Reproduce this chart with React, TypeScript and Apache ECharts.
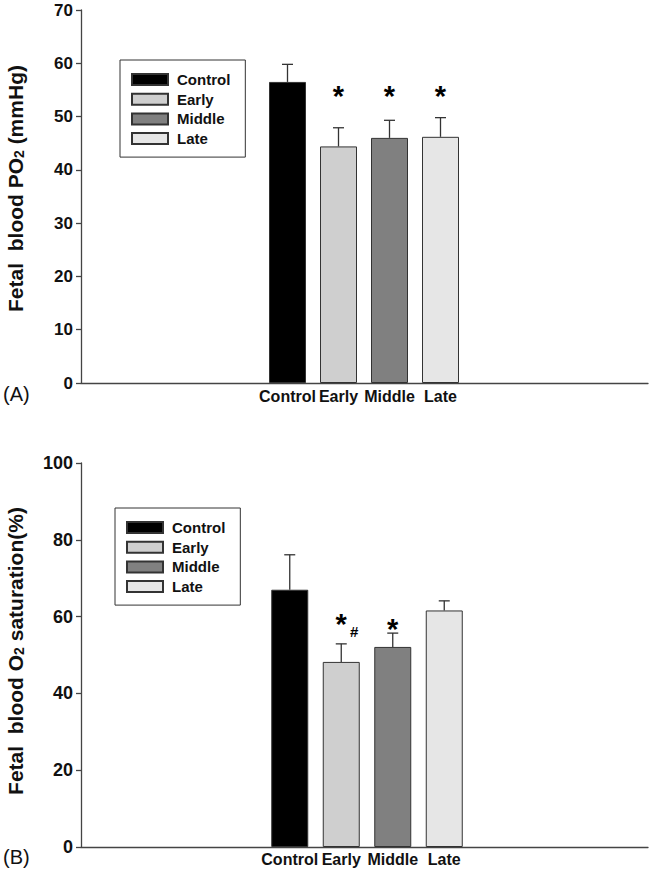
import React, { useEffect, useRef } from "react";
import * as echarts from "echarts";

const categories = ["Control", "Early", "Middle", "Late"];
const barColors = ["#000000", "#cfcfcf", "#808080", "#e6e6e6"];

// Panel A: fetal blood PO2 (mmHg)
const po2Mean = [56.5, 44.4, 46.0, 46.2];
const po2Err = [3.3, 3.5, 3.3, 3.6];
const po2Marks = ["", "*", "*", "*"];
const po2MarkLevel = [0, 54.7, 54.7, 54.7];
const po2Axis = { min: 0, max: 70, interval: 10 };

// Panel B: fetal blood O2 saturation (%)
const satMean = [67.0, 48.2, 52.1, 61.6];
const satErr = [9.1, 4.7, 3.6, 2.5];
const satMarks = ["", "*", "*", ""];
const satHash = ["", "#", "", ""];
const satMarkLevel = [0, 59.0, 57.9, 0];
const satAxis = { min: 0, max: 100, interval: 20 };

const FONT = "'Liberation Sans', Arial, Helvetica, sans-serif";
const AXIS_COLOR = "#444";

function barSeries(means: number[], xi: number, yi: number) {
  return categories.map((name, k) => ({
    name,
    type: "bar",
    xAxisIndex: xi,
    yAxisIndex: yi,
    barWidth: 37,
    barGap: "-100%",
    itemStyle: { color: barColors[k], borderColor: "#333", borderWidth: 1 },
    data: means.map((v, i) => (i === k ? v : null)),
  }));
}

function errSeries(means: number[], errs: number[], xi: number, yi: number) {
  return {
    type: "custom",
    xAxisIndex: xi,
    yAxisIndex: yi,
    z: 5,
    data: means.map((m, i) => [i, m, errs[i]]),
    renderItem: (params: any, api: any) => {
      const base = api.coord([api.value(0), api.value(1)]);
      const top = api.coord([api.value(0), api.value(1) + api.value(2)]);
      const st = { stroke: "#333", lineWidth: 1.3 };
      return {
        type: "group",
        children: [
          { type: "line", shape: { x1: base[0], y1: base[1], x2: top[0], y2: top[1] }, style: st },
          { type: "line", shape: { x1: top[0] - 5.5, y1: top[1], x2: top[0] + 5.5, y2: top[1] }, style: st },
        ],
      };
    },
  };
}

function markSeries(marks: string[], levels: number[], hashes: string[] | null, xi: number, yi: number) {
  return {
    type: "custom",
    xAxisIndex: xi,
    yAxisIndex: yi,
    z: 6,
    data: levels.map((l, i) => [i, l]),
    renderItem: (params: any, api: any) => {
      const i = params.dataIndex;
      const p = api.coord([api.value(0), api.value(1)]);
      const children: any[] = [];
      if (marks[i]) {
        children.push({
          type: "text",
          x: p[0],
          y: p[1] + 4,
          style: { text: marks[i], fontSize: 29, fontWeight: "bold", fontFamily: FONT, fill: "#000", align: "center", verticalAlign: "middle" },
        });
      }
      if (hashes && hashes[i]) {
        children.push({
          type: "text",
          x: p[0] + 13,
          y: p[1] + 11,
          style: { text: hashes[i], fontSize: 15, fontWeight: "bold", fontFamily: FONT, fill: "#000", align: "center", verticalAlign: "middle" },
        });
      }
      return { type: "group", children };
    },
  };
}

function legendFor(left: number, top: number) {
  return {
    left,
    top,
    orient: "vertical",
    data: categories,
    icon: "rect",
    itemWidth: 36,
    itemHeight: 11,
    itemGap: 4.7,
    padding: [12, 15, 11, 11],
    borderColor: "#333",
    borderWidth: 1,
    backgroundColor: "#fff",
    selectedMode: false,
    textStyle: { fontSize: 15, fontWeight: "bold", fontFamily: FONT, color: "#111", lineHeight: 15, padding: [0, 0, 0, 4] },
  };
}

function yTitle(parts: { a1: string; sub: string; a2: string }, shift: number) {
  return {
    name: `{a|${parts.a1}}{s|${parts.sub}}{a|${parts.a2}}`,
    nameLocation: "middle",
    nameGap: 55,
    nameRotate: 90,
    nameTextStyle: {
      padding: [0, 0, 0, shift],
      rich: {
        a: { fontSize: 21, fontWeight: "bold", fontFamily: FONT, color: "#111", lineHeight: 24, verticalAlign: "bottom" },
        s: { fontSize: 14, fontWeight: "bold", fontFamily: FONT, color: "#111", lineHeight: 16, verticalAlign: "bottom" },
      },
    },
  };
}

export default function App() {
  const ref = useRef<HTMLDivElement>(null);
  useEffect(() => {
    if (!ref.current) return;
    const chart = echarts.init(ref.current, null, { renderer: "svg" });
    const mainX = (gi: number) => ({
      type: "value",
      gridIndex: gi,
      min: 0,
      max: 1,
      axisLine: { show: true, lineStyle: { color: AXIS_COLOR, width: 1.3 } },
      axisTick: { show: false },
      axisLabel: { show: false },
      splitLine: { show: false },
    });
    const barX = (gi: number, margin: number) => ({
      type: "category",
      gridIndex: gi,
      data: categories,
      axisLine: { show: false },
      axisTick: { show: false },
      splitLine: { show: false },
      axisLabel: { margin, fontSize: 16, fontWeight: "bold", fontFamily: FONT, color: "#111", interval: 0 },
    });
    const mainY = (gi: number, ax: any, fs: number, title: any) => ({
      type: "value",
      gridIndex: gi,
      min: ax.min,
      max: ax.max,
      interval: ax.interval,
      axisLine: { show: true, lineStyle: { color: AXIS_COLOR, width: 1.3 } },
      axisTick: { show: true, inside: false, length: 5, lineStyle: { color: AXIS_COLOR, width: 1.3 } },
      axisLabel: { margin: 8, fontSize: fs, fontWeight: "bold", fontFamily: FONT, color: "#111" },
      splitLine: { show: false },
      ...title,
    });
    const hiddenY = (gi: number, ax: any) => ({ type: "value", gridIndex: gi, min: ax.min, max: ax.max, show: false, splitLine: { show: false } });
    const g = (o: any) => ({ ...o, outerBoundsMode: "none", containLabel: false });

    chart.setOption({
      animation: false,
      backgroundColor: "#fff",
      grid: [
        g({ left: 81, right: 4, top: 10, bottom: 491 }),
        g({ left: 262, width: 204, top: 10, bottom: 491 }),
        g({ left: 81, right: 4, top: 463, bottom: 27 }),
        g({ left: 264, width: 206, top: 463, bottom: 27 }),
      ],
      xAxis: [mainX(0), barX(1, 5), mainX(2), barX(3, 4)],
      yAxis: [
        mainY(0, po2Axis, 17, yTitle({ a1: "Fetal  blood PO", sub: "2", a2: " (mmHg)" }, 16)),
        hiddenY(1, po2Axis),
        mainY(2, satAxis, 18, yTitle({ a1: "Fetal  blood O", sub: "2", a2: " saturation(%)" }, 8)),
        hiddenY(3, satAxis),
      ],
      legend: [legendFor(120, 60), legendFor(115, 508)],
      series: [
        ...barSeries(po2Mean, 1, 1),
        errSeries(po2Mean, po2Err, 1, 1),
        markSeries(po2Marks, po2MarkLevel, null, 1, 1),
        ...barSeries(satMean, 3, 3),
        errSeries(satMean, satErr, 3, 3),
        markSeries(satMarks, satMarkLevel, satHash, 3, 3),
      ],
      graphic: [
        { type: "text", left: 3, top: 384, style: { text: "(A)", fontSize: 20, fontFamily: FONT, fill: "#111" } },
        { type: "text", left: 3, top: 847, style: { text: "(B)", fontSize: 20, fontFamily: FONT, fill: "#111" } },
      ],
    });
    return () => chart.dispose();
  }, []);
  return <div ref={ref} style={{ position: "fixed", left: 0, top: 0, width: 652, height: 874 }} />;
}
